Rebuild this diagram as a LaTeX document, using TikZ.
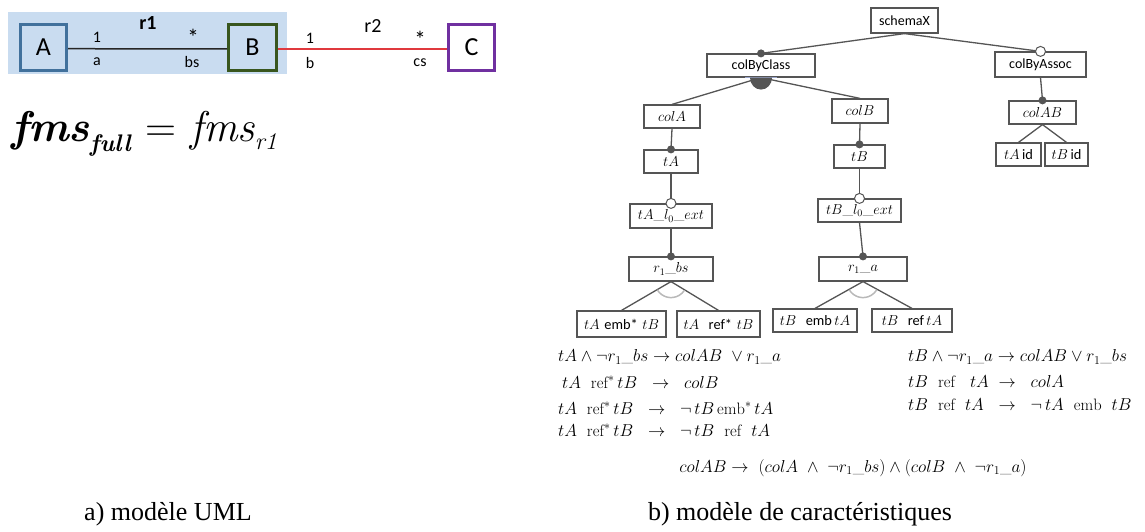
\documentclass[tikz,border=0pt]{standalone}
\usepackage{amsmath}
\usepackage{fontspec}
\newfontfamily\calib{Carlito}
\newfontfamily\tnr{Liberation Serif}
\definecolor{bgblue}{HTML}{C9DCF0}
\definecolor{aBlue}{HTML}{41719C}
\definecolor{bGreen}{HTML}{38561E}
\definecolor{cPurple}{HTML}{7030A0}
\definecolor{rRed}{HTML}{E0393E}
\definecolor{fg}{HTML}{555555}
\definecolor{orline}{HTML}{9AA6CC}
\begin{document}
\begin{tikzpicture}[x=1pt,y=1pt,
 uml/.style={draw, line width=3pt, minimum width=46pt, minimum height=46pt, inner sep=0pt, font=\calib\fontsize{26}{28}\selectfont},
 lbl/.style={inner sep=0pt, font=\calib\fontsize{16}{18}\selectfont},
 star/.style={inner sep=0pt, font=\calib\fontsize{23}{25}\selectfont},
 rlbl/.style={inner sep=0pt, font=\calib\fontsize{20}{22}\selectfont},
 fm/.style={draw=fg, line width=1.2pt, fill=white, inner sep=0pt, font=\fontsize{14.4}{16}\selectfont},
 sf/.style={font=\calib\fontsize{14}{16}\selectfont},
 tl/.style={draw=fg, line width=1.3pt},
 fdot/.style={fill=fg, circle, inner sep=0pt, minimum size=8pt},
 odot/.style={draw=fg, fill=white, circle, line width=1pt, inner sep=0pt, minimum size=10pt},
 ctext/.style={inner sep=0pt, anchor=west, font=\fontsize{16.5}{18}\selectfont},
 captxt/.style={inner sep=0pt, font=\tnr\fontsize{26}{29}\selectfont},
 grp/.style={draw=gray!55, line width=1.5pt},
]
\useasboundingbox (0,0) rectangle (1145,-532);
% ---------- UML ----------
\node[fill=bgblue, minimum width=279pt, minimum height=62pt, inner sep=0pt] (bg) at (147.5,-43) {};
\node[uml, draw=aBlue, fill=bgblue] (A) at (43.5,-47.2) {A};
\node[uml, draw=bGreen, fill=bgblue, minimum width=48pt] (B) at (252.5,-47.5) {B};
\node[uml, draw=cPurple, fill=white] (C) at (471.5,-47.5) {C};
\draw[line width=1.5pt, black!85] ([yshift=-1.5pt]A.east) -- ([yshift=-1.5pt]B.west);
\draw[line width=1.5pt, rRed] ([yshift=-1.5pt]B.east) -- ([yshift=-1.5pt]C.west);
\node[rlbl, font=\calib\bfseries\fontsize{20}{22}\selectfont] (r1) at (148,-23) {r1};
\node[lbl] (m1) at (97,-37) {1};
\node[lbl] (ra) at (97,-62) {a};
\node[star] (s1) at (193,-37) {*};
\node[lbl] (rbs) at (192,-62) {bs};
\node[rlbl] (r2) at (373,-26) {r2};
\node[lbl] (m2) at (310,-38) {1};
\node[lbl] (rb) at (310,-63) {b};
\node[star] (s2) at (420,-39) {*};
\node[lbl] (rcs) at (420,-63) {cs};
\node[anchor=west, inner sep=0pt] (fms) at (11,-134) {\fontsize{43}{46}\selectfont
  {\bfseries\itshape fms}\raisebox{-10pt}{\fontsize{24}{27}\selectfont\bfseries\itshape full}%
  \,\,=\,\,{\itshape fms}\raisebox{-8pt}{\fontsize{24}{27}\selectfont\itshape r1}};
% ---------- feature model ----------
\node[fm, sf, minimum width=67pt, minimum height=25pt] (schemaX) at (904.5,-20.5) {schemaX};
\node[fm, sf, minimum width=108pt, minimum height=23pt] (colByClass) at (761,-65.5) {colByClass};
\node[fm, sf, minimum width=91pt, minimum height=25pt] (colByAssoc) at (1040.5,-64.5) {colByAssoc};
\node[fm, minimum width=56pt, minimum height=23pt] (colA) at (672,-116.5) {$colA$};
\node[fm, minimum width=56pt, minimum height=24pt] (colB) at (860,-111) {$colB$};
\node[fm, minimum width=67pt, minimum height=23pt] (colAB) at (1042.5,-112.5) {$colAB$};
\node[fm, minimum width=45pt, minimum height=23pt] (tAid) at (1018.5,-154.5) {$tA$\,{\calib id}};
\node[fm, minimum width=43pt, minimum height=23pt] (tBid) at (1066.5,-154.5) {$tB$\,{\calib id}};
\node[fm, minimum width=54pt, minimum height=23pt] (tA) at (671,-161.5) {$tA$};
\node[fm, minimum width=82pt, minimum height=24pt] (tAext) at (671,-216) {$tA\_l_0\_ext$};
\node[fm, minimum width=51pt, minimum height=23pt] (tB) at (859.5,-156.5) {$tB$};
\node[fm, minimum width=83pt, minimum height=23pt] (tBext) at (859.5,-210.5) {$tB\_l_0\_ext$};
\node[fm, minimum width=84pt, minimum height=24pt] (r1bs) at (671,-269) {$r_1\_bs$};
\node[fm, minimum width=88pt, minimum height=24pt] (r1a) at (863,-269) {$r_1\_a$};
\node[fm, minimum width=89pt, minimum height=26pt] (tAembtB) at (621.5,-324) {$tA$ {\calib emb*} $tB$};
\node[fm, minimum width=83pt, minimum height=26pt] (tAreftB) at (718.5,-324) {$tA$\ \ {\calib ref*} $tB$};
\node[fm, minimum width=84pt, minimum height=23pt] (tBembtA) at (815,-320.5) {$tB$\ \ {\calib emb}\,$tA$};
\node[fm, minimum width=80pt, minimum height=23pt] (tBreftA) at (912,-320.5) {$tB$\ \ {\calib ref}\,$tA$};
% connectors
\draw[tl] (schemaX.south) -- (colByClass.north);
\draw[tl] (schemaX.south) -- (colByAssoc.north);
\draw[tl] (colByClass.south) -- (colA.north);
\draw[tl] (colByClass.south) -- (colB.north);
\draw[tl] (colByAssoc.south) -- (colAB.north);
\draw[tl] (colAB.south) -- (tAid.north);
\draw[tl] (colAB.south) -- (tBid.north);
\draw[tl] (colA.south) -- (tA.north);
\draw[tl] (tA.south) -- (tAext.north);
\draw[tl] (tAext.south) -- (r1bs.north);
\draw[tl] (r1bs.south) -- (tAembtB.north);
\draw[tl] (r1bs.south) -- (tAreftB.north);
\draw[tl] (colB.south) -- (tB.north);
\draw[tl] (tB.south) -- (tBext.north);
\draw[tl] (tBext.south) -- (r1a.north);
\draw[tl] (r1a.south) -- (tBembtA.north);
\draw[tl] (r1a.south) -- (tBreftA.north);
% group marks
\draw[orline, line width=1.3pt] ([xshift=-16pt]colByClass.south) -- ([xshift=16pt]colByClass.south);
\fill[fg] ([xshift=-11pt]colByClass.south) arc[start angle=180, end angle=360, x radius=11pt, y radius=12pt] -- cycle;
\draw[grp] (r1bs.south) ++(211:16pt) arc[start angle=211, end angle=327, radius=16pt];
\draw[grp] (r1a.south) ++(211:16pt) arc[start angle=211, end angle=329, radius=16pt];
% dots
\node[fdot] (d1) at (colByClass.north) {};
\node[odot] (d2) at (colByAssoc.north) {};
\node[fdot] (d3) at (colAB.north) {};
\node[fdot] (d4) at (tA.north) {};
\node[odot] (d5) at (tAext.north) {};
\node[fdot] (d6) at (r1bs.north) {};
\node[fdot] (d7) at (tB.north) {};
\node[odot] (d8) at (tBext.north) {};
\node[fdot] (d9) at (r1a.north) {};
% constraints
\node[ctext] (c1) at (558,-357) {$tA \wedge \neg r_1\_bs \rightarrow colAB\ \vee r_1\_a$};
\node[ctext] (c2) at (562,-382) {$tA\ \ \mathrm{ref}^*\,tB\ \ \rightarrow\ \ colB$};
\node[ctext] (c3) at (558,-408) {$tA\ \ \mathrm{ref}^*\,tB\ \ \rightarrow\ \ \neg\,tB\,\mathrm{emb}^*\,tA$};
\node[ctext] (c4) at (558,-430) {$tA\ \ \mathrm{ref}^*\,tB\ \ \rightarrow\ \ \neg\,tB\ \ \mathrm{ref}\ \ tA$};
\node[ctext] (c5) at (908,-357) {$tB \wedge \neg r_1\_a \rightarrow colAB \vee r_1\_bs$};
\node[ctext] (c6) at (908,-382) {$tB\ \ \mathrm{ref}\ \ \ tA\ \rightarrow\ \ colA$};
\node[ctext] (c7) at (908,-405) {$tB\ \ \mathrm{ref}\ \ tA\ \ \rightarrow\ \ \neg\,tA\ \ \mathrm{emb}\ \ tB$};
\node[inner sep=0pt, font=\fontsize{16.5}{18}\selectfont] (c8) at (853,-468) {$colAB \rightarrow\ (colA\ \wedge\ \neg r_1\_bs) \wedge (colB\ \wedge\ \neg r_1\_a)$};
% captions
\node[captxt] (capa) at (168,-514) {a) modèle UML};
\node[captxt] (capb) at (800,-514) {b) modèle de caractéristiques};
\end{tikzpicture}
\end{document}
